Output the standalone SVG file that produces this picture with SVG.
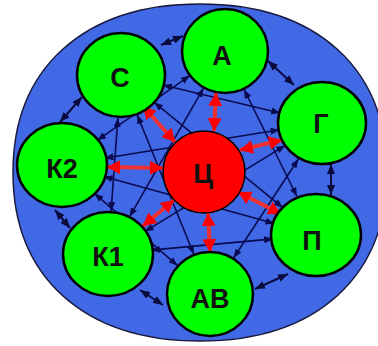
<svg xmlns="http://www.w3.org/2000/svg" width="378" height="346" viewBox="0 0 378 346">
<defs>
<marker id="rh" markerUnits="userSpaceOnUse" markerWidth="14" markerHeight="14" viewBox="0 0 14 14" refX="13" refY="7" orient="auto-start-reverse"><path d="M0,0 L13,7 L0,14 Z" fill="#ff0000"/></marker>
<marker id="bh" markerUnits="userSpaceOnUse" markerWidth="10" markerHeight="8" viewBox="0 0 10 8" refX="10" refY="4" orient="auto-start-reverse"><path d="M0,0 L10,4 L0,8 Z" fill="#0a0a3c"/></marker>
<marker id="nh" markerUnits="userSpaceOnUse" markerWidth="9" markerHeight="7" viewBox="0 0 9 7" refX="9" refY="3.5" orient="auto-start-reverse"><path d="M0,0 L9,3.5 L0,7 Z" fill="#0a0a50"/></marker>
</defs>
<style>
.bg{fill:#4169e6;stroke:#1a1a40;stroke-width:1.5}
.n{fill:#00ff00;stroke:#000;stroke-width:2.5}
.c{fill:#ff0000;stroke:#000;stroke-width:1.5}
.t{font-family:"Liberation Sans",Arial,sans-serif;font-weight:bold;font-size:27px;fill:#111;text-anchor:middle}
.s{stroke:#0a0a50;stroke-width:1.6;fill:none;marker-start:url(#nh);marker-end:url(#nh)}
.a{stroke:#0a0a3c;stroke-width:2;fill:none;marker-start:url(#bh);marker-end:url(#bh)}
.r{stroke:#f03030;stroke-width:4;fill:none;marker-start:url(#rh);marker-end:url(#rh)}
</style>
<path class="bg" d="M200,4 C316,4 387,68 387,172.5 C387,277 316,341 200,341 C84,341 13,277 13,172.5 C13,68 84,4 200,4 Z"/>
<g id="connectors">
<line class="s" x1="244.1" y1="89.5" x2="297" y2="196.5"/>
<line class="s" x1="298.4" y1="159" x2="233.6" y2="258"/>
<line class="s" x1="273.2" y1="238.9" x2="150.8" y2="250.1"/>
<line class="s" x1="177.6" y1="265.7" x2="94.4" y2="193.3"/>
<line class="s" x1="111.1" y1="211.1" x2="117.9" y2="117.9"/>
<line class="s" x1="97.2" y1="140.4" x2="189.8" y2="75.6"/>
<line class="s" x1="162.8" y1="85" x2="280.2" y2="113"/>
<line class="s" x1="285.3" y1="145.4" x2="144.7" y2="231.6"/>
<line class="s" x1="274.5" y1="223.6" x2="103.5" y2="176.4"/>
<line class="s" x1="193.8" y1="254.2" x2="137.2" y2="114.8"/>
<line class="s" x1="129.5" y1="216.8" x2="203.5" y2="88.2"/>
<line class="s" x1="104.4" y1="158.2" x2="279.6" y2="129.8"/>
<line class="s" x1="154.2" y1="102.3" x2="282.8" y2="207.7"/>
<line class="a" x1="161" y1="45" x2="183" y2="36"/>
<line class="a" x1="268" y1="61" x2="294" y2="85"/>
<line class="a" x1="331" y1="164" x2="331" y2="195"/>
<line class="a" x1="288" y1="274" x2="255" y2="289"/>
<line class="a" x1="163" y1="305" x2="140" y2="290"/>
<line class="a" x1="70" y1="228" x2="55" y2="210"/>
<line class="a" x1="60" y1="122" x2="82" y2="97"/>
<line class="r" x1="214" y1="131" x2="216" y2="93"/>
<line class="r" x1="240" y1="150" x2="282" y2="140"/>
<line class="r" x1="238" y1="192" x2="281" y2="214"/>
<line class="r" x1="208" y1="213" x2="210" y2="252"/>
<line class="r" x1="174" y1="200" x2="143" y2="226"/>
<line class="r" x1="163" y1="168" x2="107" y2="167"/>
<line class="r" x1="175" y1="142" x2="143" y2="106"/>
</g>
<g id="node-A"><ellipse class="n" cx="225" cy="51" rx="43" ry="42"/><text class="t" x="222" y="65">А</text></g>
<g id="node-G"><ellipse class="n" cx="322" cy="123" rx="44" ry="41"/><text class="t" x="321" y="133">Г</text></g>
<g id="node-P"><ellipse class="n" cx="316" cy="235" rx="45" ry="41"/><text class="t" x="312" y="250">П</text></g>
<g id="node-AV"><ellipse class="n" cx="210" cy="294" rx="43" ry="42"/><text class="t" x="210" y="308">АВ</text></g>
<g id="node-K1"><ellipse class="n" cx="108" cy="254" rx="45" ry="42"/><text class="t" x="108" y="266">К1</text></g>
<g id="node-K2"><ellipse class="n" cx="62" cy="165" rx="45" ry="42"/><text class="t" x="62" y="178">К2</text></g>
<g id="node-S"><ellipse class="n" cx="121" cy="75" rx="44" ry="42"/><text class="t" x="120" y="87">С</text></g>
<g id="node-Ts"><circle class="c" cx="204" cy="172" r="41"/><text class="t" x="203" y="183">Ц</text></g>
</svg>
